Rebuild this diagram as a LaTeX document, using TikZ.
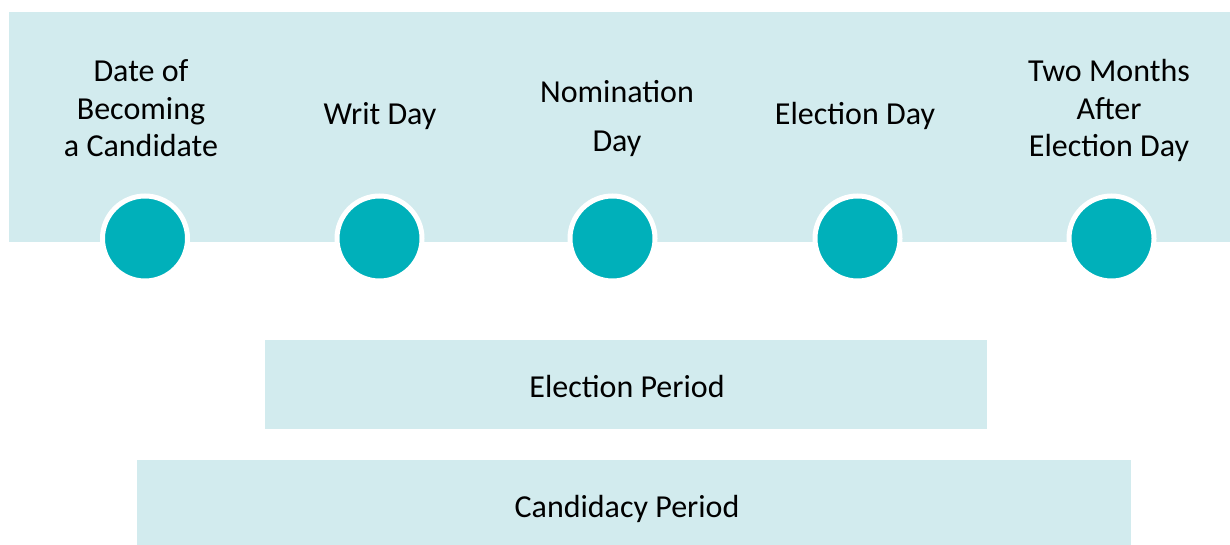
\documentclass[tikz,border=0pt]{standalone}
\usepackage{fontspec}
\setmainfont{Carlito}
\definecolor{lightband}{RGB}{210,235,238}
\definecolor{tealdot}{RGB}{0,176,186}
\begin{document}
\begin{tikzpicture}[x=1pt,y=-1pt,
  band/.style={fill=lightband,draw=none},
  dot/.style={circle,fill=tealdot,draw=white,line width=5pt,minimum size=85pt,inner sep=0pt},
  lbl/.style={align=center,anchor=base,inner sep=0pt,font=\fontsize{32}{37.5}\selectfont},
  boxlbl/.style={anchor=base,inner sep=0pt,font=\fontsize{32}{37.5}\selectfont}]
\useasboundingbox (0,0) rectangle (1230,545);
\fill[band] (9,12) rectangle (1230,242);
\node[dot] (d1) at (145,238.5) {};
\node[dot] (d2) at (379.5,238.5) {};
\node[dot] (d3) at (612.5,238.5) {};
\node[dot] (d4) at (857.5,238.5) {};
\node[dot] (d5) at (1111.5,238.5) {};
\node[lbl] (t1) at (141,157) {Date of\\Becoming\\a Candidate};
\node[lbl] (t2) at (380,125) {Writ Day};
\node[lbl] (t3) at (617,152) {Nomination\\[11.5pt]Day};
\node[lbl] (t4) at (855,125) {Election Day};
\node[lbl] (t5) at (1109,157) {Two Months\\After\\Election Day};
\fill[band] (265,340) rectangle (987,429);
\node[boxlbl] (ep) at (627,397) {Election Period};
\fill[band] (137,460) rectangle (1131,545);
\node[boxlbl] (cp) at (627,517) {Candidacy Period};
\end{tikzpicture}
\end{document}
